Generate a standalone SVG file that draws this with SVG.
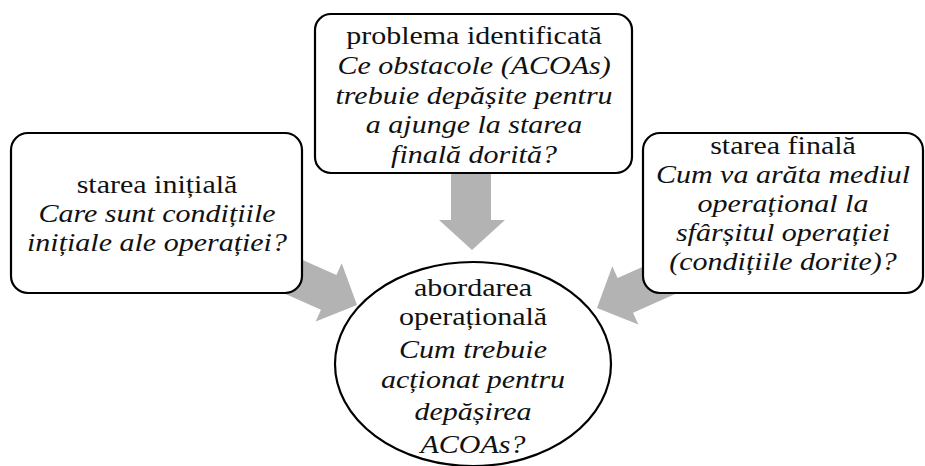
<svg xmlns="http://www.w3.org/2000/svg" width="925" height="466" viewBox="0 0 925 466">
<style>
.box{fill:#fff;stroke:#000;stroke-width:2.2}
.arr{fill:#b3b3b3;stroke:none}
.t{font-family:'Liberation Serif', serif;font-size:25px;fill:#111;text-anchor:middle}
.q{font-style:italic}
</style>
<defs>
<polygon id="arrowShape" points="0,0 -31,-32 -31,-19 -95,-19 -95,19 -31,19 -31,32"/>
</defs>
<rect width="925" height="466" fill="#fff"/>
<g id="connectors">
<polygon class="arr" points="451,173 491,173 491,220 505,220 472,250 439,220 451,220"/>
<use href="#arrowShape" class="arr" transform="translate(357,305) rotate(24)"/>
<use href="#arrowShape" class="arr" transform="translate(597,308) rotate(156)"/>
</g>
<g id="node-initial" class="t">
<rect class="box" x="11" y="133" width="291" height="160" rx="17"/>
<text transform="translate(157,193) scale(1.2,1)">starea inițială</text>
<text class="q" transform="translate(157,222) scale(1.2,1)">Care sunt condițiile</text>
<text class="q" transform="translate(157,251) scale(1.2,1)">inițiale ale operației?</text>
</g>
<g id="node-problem" class="t">
<rect class="box" x="315" y="14" width="317" height="159" rx="16"/>
<text transform="translate(474,44) scale(1.2,1)">problema identificată</text>
<text class="q" transform="translate(474,74) scale(1.2,1)">Ce obstacole (ACOAs)</text>
<text class="q" transform="translate(474,104) scale(1.2,1)">trebuie depășite pentru</text>
<text class="q" transform="translate(474,133) scale(1.2,1)">a ajunge la starea</text>
<text class="q" transform="translate(474,163) scale(1.2,1)">finală dorită?</text>
</g>
<g id="node-final" class="t">
<rect class="box" x="643" y="133" width="280" height="160" rx="17"/>
<text transform="translate(783,154) scale(1.2,1)">starea finală</text>
<text class="q" transform="translate(783,183) scale(1.2,1)">Cum va arăta mediul</text>
<text class="q" transform="translate(783,212) scale(1.2,1)">operațional la</text>
<text class="q" transform="translate(783,241) scale(1.2,1)">sfârșitul operației</text>
<text class="q" transform="translate(783,270) scale(1.2,1)">(condițiile dorite)?</text>
</g>
<g id="node-approach" class="t">
<ellipse class="box" cx="473" cy="364" rx="138" ry="102"/>
<text transform="translate(473,296) scale(1.2,1)">abordarea</text>
<text transform="translate(473,325) scale(1.2,1)">operațională</text>
<text class="q" transform="translate(473,358) scale(1.2,1)">Cum trebuie</text>
<text class="q" transform="translate(473,388) scale(1.2,1)">acționat pentru</text>
<text class="q" transform="translate(473,420) scale(1.2,1)">depășirea</text>
<text class="q" transform="translate(473,453) scale(1.2,1)">ACOAs?</text>
</g>
</svg>
